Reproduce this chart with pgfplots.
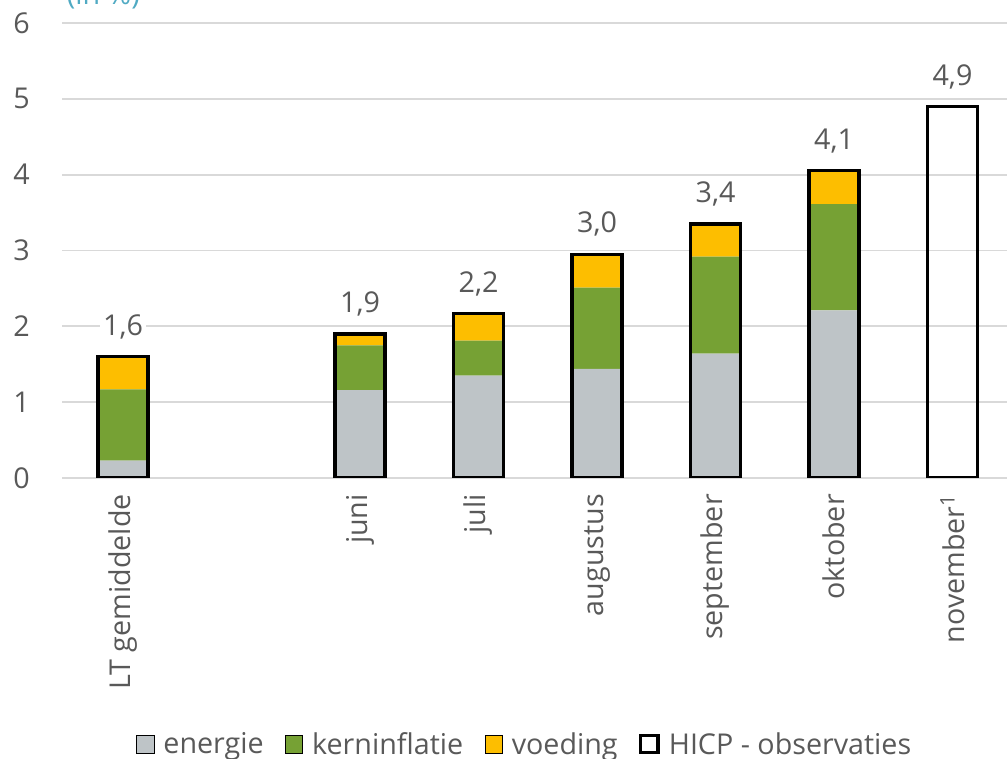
\documentclass[border=0pt]{standalone}
\usepackage{pgfplots}
\pgfplotsset{compat=1.18}
\usepackage{fontspec}
\setmainfont{Open Sans}

\definecolor{energie}{RGB}{190,196,199}
\definecolor{kern}{RGB}{118,161,52}
\definecolor{voeding}{RGB}{253,190,0}
\definecolor{txt}{RGB}{89,89,89}
\definecolor{titel}{RGB}{80,170,195}

\pgfplotsset{
  basis/.style={
    width=708.75pt, height=341.25pt, scale only axis,
    at={(46.5pt,210.75pt)}, anchor=south west,
    xmin=-0.515, xmax=7.46, ymin=0, ymax=6,
    axis line style={draw=none}, tick style={draw=none},
    bar width=37.5pt,
  }
}

\begin{document}
\begin{tikzpicture}
\path[use as bounding box] (0,0) rectangle (755.25pt,569.25pt);

\begin{axis}[basis,
  ybar stacked,
  ytick={0,1,...,6},
  ymajorgrids,
  grid style={line width=1.4pt, color=black!15},
  xtick={0,2,3,4,5,6,7},
  xticklabels={LT gemiddelde,juni,juli,augustus,september,oktober,november\textsuperscript{1}},
  tick label style={font=\fontsize{21.5}{25}\selectfont, text=txt},
  yticklabel style={anchor=east, inner sep=0pt, xshift=-24pt},
  xticklabel style={yshift=-12pt, rotate=90, anchor=east, inner sep=0pt},
  /pgf/number format/assume math mode=true,
]
\addplot[fill=energie, draw=none] coordinates {
  (0,0.23) (2,1.16) (3,1.35) (4,1.44) (5,1.64) (6,2.21) (7,0)};
\addplot[fill=kern, draw=none] coordinates {
  (0,0.94) (2,0.59) (3,0.46) (4,1.07) (5,1.28) (6,1.40) (7,0)};
\addplot[fill=voeding, draw=none] coordinates {
  (0,0.43) (2,0.15) (3,0.36) (4,0.44) (5,0.43) (6,0.44) (7,0)};
\end{axis}

\begin{axis}[basis,
  ybar,
  hide y axis,
  xtick=\empty,
  point meta=explicit symbolic,
  nodes near coords,
  every node near coord/.append style={font=\fontsize{21.5}{25}\selectfont, text=txt,
    fill=white, inner sep=2pt, anchor=south, yshift=10pt},
  legend style={at={(0.49,-0.585)}, anchor=center, draw=none, fill=none,
    font=\fontsize{21.5}{25}\selectfont, text=txt,
    legend columns=4,
    /tikz/every odd column/.append style={column sep=5pt},
    /tikz/every even column/.append style={column sep=14pt}},
  legend image code/.code={\draw[#1] (0pt,-6.5pt) rectangle (13pt,6.5pt);},
]
\addlegendimage{fill=energie, draw=none}
\addlegendimage{fill=kern, draw=none}
\addlegendimage{fill=voeding, draw=none}
\addplot[fill=none, draw=black, line width=2.4pt] coordinates {
  (0,1.6) [1,6] (2,1.9) [1,9] (3,2.17) [2,2] (4,2.95) [3,0]
  (5,3.35) [3,4] (6,4.05) [4,1] (7,4.9) [4,9]};
\legend{energie, kerninflatie, voeding, HICP - observaties}
\end{axis}

\node[anchor=base west, inner sep=0pt, text=titel, font=\fontsize{21.5}{25}\selectfont]
  at (50pt,566pt) {(in \%)};
\end{tikzpicture}
\end{document}
